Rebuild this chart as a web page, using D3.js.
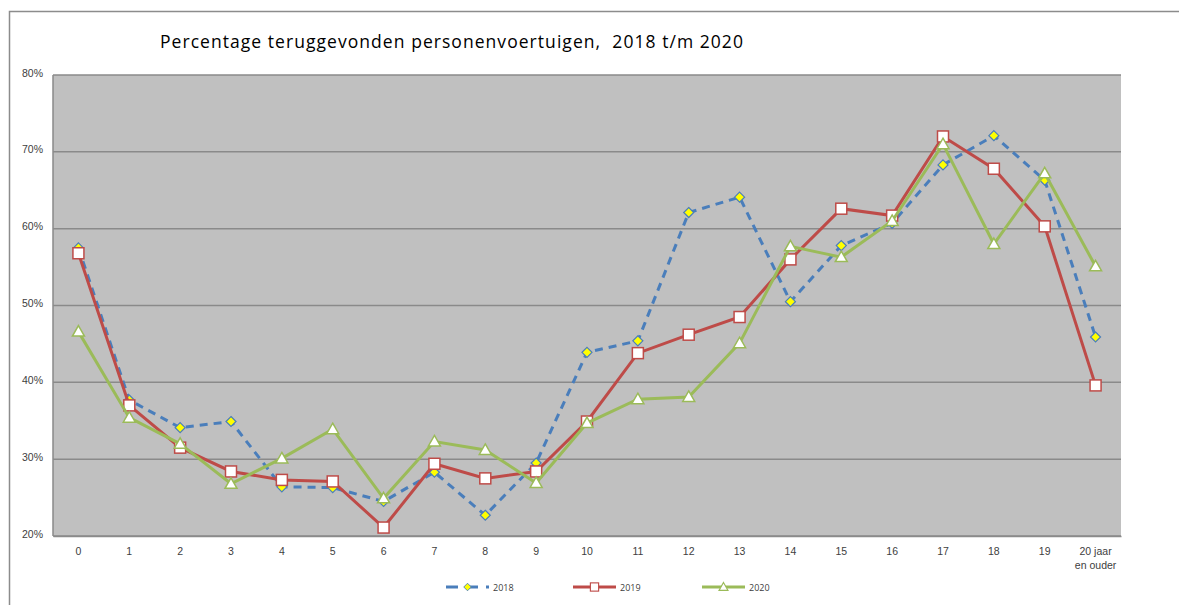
<!DOCTYPE html>
<html>
<head>
<meta charset="utf-8">
<script src="https://cdn.jsdelivr.net/npm/d3@7"></script>
<style>
  body { margin: 0; background: #fff; }
  svg { display: block; font-family: "Open Sans", "Liberation Sans", sans-serif; }
  .tick text { fill: #404040; }
</style>
</head>
<body>
<svg width="1179" height="605"></svg>
<script>
// categories (age of vehicle) and yearly percentages
const categories = ['0','1','2','3','4','5','6','7','8','9','10','11','12','13','14','15','16','17','18','19','20 jaar en ouder'];
const values2018 = [57.5, 37.7, 34.1, 34.9, 26.4, 26.3, 24.5, 28.3, 22.7, 29.5, 43.9, 45.4, 62.1, 64.1, 50.5, 57.8, 60.7, 68.3, 72.1, 66.3, 45.9];
const values2019 = [56.8, 37.0, 31.5, 28.4, 27.3, 27.1, 21.1, 29.4, 27.5, 28.4, 34.9, 43.8, 46.2, 48.5, 56.0, 62.6, 61.7, 72.0, 67.8, 60.3, 39.6];
const values2020 = [46.6, 35.4, 32.0, 26.8, 30.1, 33.9, 24.9, 32.3, 31.2, 26.9, 34.7, 37.8, 38.1, 45.1, 57.7, 56.3, 61.0, 71.0, 58.0, 67.2, 55.1];
const yTicks = [20, 30, 40, 50, 60, 70, 80];

const series = [
  { name: '2018', values: values2018, color: '#4a7ebb', dash: '8,6', marker: 'diamond' },
  { name: '2019', values: values2019, color: '#be4b48', dash: null, marker: 'square' },
  { name: '2020', values: values2020, color: '#9bbb59', dash: null, marker: 'triangle' }
];

const svg = d3.select('svg');
const plotLeft = 53, plotRight = 1121, plotTop = 75, plotBottom = 536;

// outer frame
svg.append('path')
  .attr('d', `M9.5,605 V11.5 H1179`)
  .attr('fill', 'none')
  .attr('stroke', '#8c8c8c')
  .attr('stroke-width', 1.5);

svg.append('text')
  .attr('x', 160)
  .attr('y', 48)
  .attr('font-size', 17.5)
  .attr('letter-spacing', 1.05)
  .attr('fill', '#000')
  .style('white-space', 'pre')
  .attr('xml:space', 'preserve')
  .text('Percentage teruggevonden personenvoertuigen,  2018 t/m 2020');

const x = d3.scaleBand().domain(categories).range([plotLeft, plotRight]);
const y = d3.scaleLinear().domain([20, 80]).range([plotBottom, plotTop]);

svg.append('rect')
  .attr('x', plotLeft).attr('y', plotTop)
  .attr('width', plotRight - plotLeft).attr('height', plotBottom - plotTop)
  .attr('fill', '#c0c0c0');

// gridlines
svg.append('g')
  .selectAll('line')
  .data(yTicks)
  .join('line')
  .attr('x1', plotLeft).attr('x2', plotRight)
  .attr('y1', d => y(d)).attr('y2', d => y(d))
  .attr('stroke', '#8a8a8a')
  .attr('stroke-width', 1.5);

svg.append('line')
  .attr('x1', plotLeft).attr('x2', plotLeft)
  .attr('y1', plotTop).attr('y2', plotBottom)
  .attr('stroke', '#8a8a8a').attr('stroke-width', 1.5);

// y axis
const yAxis = svg.append('g')
  .attr('transform', `translate(${plotLeft},0)`)
  .call(d3.axisLeft(y).tickValues(yTicks).tickFormat(d => d + '%').tickSize(0).tickPadding(10));
yAxis.select('.domain').remove();
yAxis.selectAll('text').attr('font-size', 10.5).attr('dy', '0.1em');

// x axis
const xAxis = svg.append('g')
  .attr('transform', `translate(0,${plotBottom})`)
  .call(d3.axisBottom(x).tickSize(0).tickPadding(12));
xAxis.select('.domain').attr('stroke', '#8a8a8a').attr('stroke-width', 1.5);
xAxis.selectAll('text').attr('font-size', 10.5);
xAxis.selectAll('.tick text')
  .filter(d => d.indexOf('jaar') >= 0)
  .text(null)
  .each(function() {
    const t = d3.select(this);
    t.append('tspan').attr('x', 0).attr('dy', '0.71em').text('20 jaar');
    t.append('tspan').attr('x', 0).attr('dy', '1.3em').text('en ouder');
  })
  .attr('dy', null);

const cx = (d, i) => x(categories[i]) + x.bandwidth() / 2;

const line = d3.line()
  .x((d, i) => cx(d, i))
  .y(d => y(d));

function drawMarker(g, kind, color) {
  if (kind === 'diamond') {
    g.append('path').attr('d', 'M0,-5 L5,0 L0,5 L-5,0 Z')
      .attr('fill', '#ffff00').attr('stroke', color).attr('stroke-width', 1.2);
  } else if (kind === 'square') {
    g.append('rect').attr('x', -5.5).attr('y', -5.5).attr('width', 11).attr('height', 11)
      .attr('fill', '#fff').attr('stroke', color).attr('stroke-width', 1.5);
  } else {
    g.append('path').attr('d', 'M0,-6 L6,4.5 L-6,4.5 Z')
      .attr('fill', '#fff').attr('stroke', color).attr('stroke-width', 1.5);
  }
}

series.forEach(s => {
  const g = svg.append('g');
  g.append('path')
    .attr('d', line(s.values))
    .attr('fill', 'none')
    .attr('stroke', s.color)
    .attr('stroke-width', 3)
    .attr('stroke-dasharray', s.dash);
  s.values.forEach((v, i) => {
    const m = g.append('g').attr('transform', `translate(${cx(v, i)},${y(v)})`);
    drawMarker(m, s.marker, s.color);
  });
});

// legend
const legendX = [446, 573, 702];
series.forEach((s, i) => {
  const g = svg.append('g').attr('transform', `translate(${legendX[i]},587)`);
  g.append('line')
    .attr('x1', 0).attr('x2', 43)
    .attr('stroke', s.color).attr('stroke-width', 3)
    .attr('stroke-dasharray', s.dash ? '12,8' : null);
  const m = g.append('g').attr('transform', 'translate(21.5,0) scale(0.75)');
  drawMarker(m, s.marker, s.color);
  g.append('text')
    .attr('x', 47).attr('y', 3.5)
    .attr('font-size', 9)
    .attr('fill', '#404040')
    .text(s.name);
});
</script>
</body>
</html>
